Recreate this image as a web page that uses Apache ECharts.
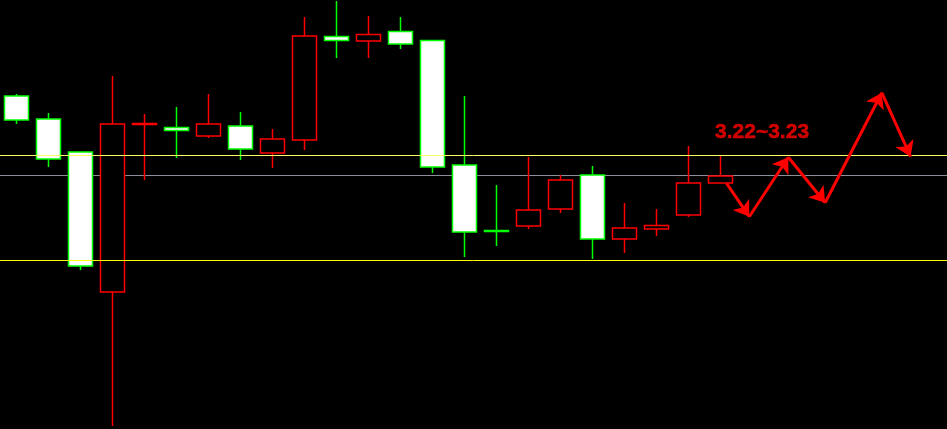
<!DOCTYPE html>
<html>
<head>
<meta charset="utf-8">
<script src="https://cdn.jsdelivr.net/npm/echarts@6/dist/echarts.min.js"></script>
<style>
html,body{margin:0;padding:0;background:#000;}
#chart{width:947px;height:429px;}
</style>
</head>
<body>
<div id="chart"></div>
<script>
// candle index positions
const indices = [0,1,2,3,4,5,6,7,8,9,10,11,12,13,14,15,16,17,18,19,20,21,22];
const opens  = [3.304,3.281,3.248,3.108,3.2755,3.2725,3.264,3.274,3.247,3.260,3.3635,3.359,3.3685,3.3595,3.235,3.1695,3.174,3.191,3.225,3.161,3.171,3.185,3.217];
const closes = [3.280,3.241,3.134,3.276,3.2765,3.2695,3.276,3.251,3.261,3.364,3.3595,3.3655,3.356,3.233,3.168,3.1685,3.190,3.220,3.161,3.172,3.1745,3.217,3.224];
const lows   = [3.276,3.233,3.130,2.974,3.220,3.242,3.262,3.240,3.232,3.250,3.342,3.342,3.351,3.227,3.143,3.154,3.171,3.187,3.141,3.147,3.164,3.183,3.217];
const highs  = [3.306,3.287,3.248,3.324,3.286,3.293,3.306,3.288,3.271,3.383,3.399,3.384,3.383,3.3595,3.304,3.215,3.243,3.225,3.234,3.197,3.191,3.254,3.244];

// horizontal levels
const upperLevel = 3.2447;
const midLevel = 3.2247;
const lowerLevel = 3.1397;

// projected path (index, price)
const pathX = [22.19,22.90,24.12,25.27,27.04,27.94];
const pathY = [3.2167,3.1833,3.2427,3.1973,3.3073,3.2433];

// annotation
const noteText = '3.22~3.23';
const noteX = 21.83;
const noteY = 3.268;

const candleData = indices.map((x,i)=>[x, opens[i], closes[i], lows[i], highs[i]]);
const segs = [];
for (let i=0;i<pathX.length-1;i++){
  segs.push({coords:[[pathX[i],pathY[i]],[pathX[i+1],pathY[i+1]]]});
}

const chart = echarts.init(document.getElementById('chart'));
chart.setOption({
  backgroundColor:'#000',
  animation:false,
  grid:{left:0,right:0,top:0,bottom:0},
  xAxis:{type:'value',min:-0.515625,max:29.078125,show:false},
  yAxis:{type:'value',min:2.971,max:3.400,show:false},
  series:[
    {
      type:'candlestick',
      z:2,
      barWidth:24,
      encode:{x:0,y:[1,2,3,4]},
      data:candleData,
      itemStyle:{
        color:'#000000',
        color0:'#ffffff',
        borderColor:'#ff0000',
        borderColor0:'#00ff00',
        borderColorDoji:'#ff0000',
        borderWidth:1.5
      },
      markLine:{
        z:1,
        precision:6,
        silent:true,
        symbol:['none','none'],
        label:{show:false},
        lineStyle:{color:'#8a8f99',width:1,type:'solid'},
        data:[{yAxis:midLevel}]
      }
    },
    {
      type:'line',
      data:[],
      markLine:{
        z:5,
        precision:6,
        silent:true,
        symbol:['none','none'],
        label:{show:false},
        lineStyle:{color:'#ffff00',width:1,type:'solid'},
        data:[{yAxis:upperLevel,lineStyle:{color:'#ffff66'}},{yAxis:lowerLevel}]
      }
    },
    {
      type:'lines',
      coordinateSystem:'cartesian2d',
      z:10,
      symbol:['none','arrow'],
      symbolSize:[9,15],
      lineStyle:{color:'#ff0000',width:3,opacity:1},
      data:segs
    },
    {
      type:'scatter',
      z:10,
      symbolSize:0,
      data:[[noteX,noteY]],
      label:{
        show:true,
        position:'right',
        distance:0,
        formatter:noteText,
        color:'#ff0000',
        fontSize:21,
        fontWeight:'bold',
        fontFamily:'Liberation Sans, Arial, sans-serif',
        textBorderColor:'#ff0000',
        textBorderWidth:0.5
      }
    }
  ]
});
</script>
</body>
</html>
